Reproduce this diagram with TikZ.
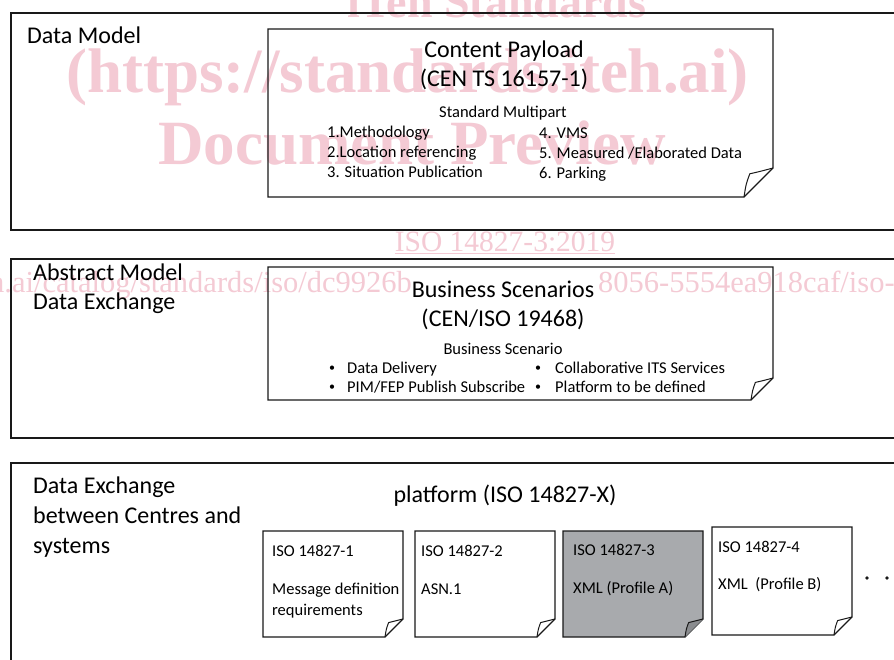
\documentclass[tikz,border=0pt]{standalone}
\usepackage{fontspec}
\setmainfont{Carlito}
\newfontfamily\wmfont{Liberation Serif}

\definecolor{wmpink}{RGB}{244,202,212}
\definecolor{notegray}{RGB}{168,170,173}
\definecolor{flapgray}{RGB}{138,140,143}

% folded note: x1, y1, x2, y2, fold size, body fill, flap fill
\newcommand\notebox[7]{%
  \draw[boxline, fill=#6] (#1,#2) -- (#3,#2) -- (#3,{#4-#5}) -- ({#3-#5},#4) -- (#1,#4) -- cycle;
  \draw[flapline, fill=#7] ({#3-#5},#4) .. controls ({#3-0.93*#5},{#4-0.45*#5}) .. ({#3-0.8*#5},{#4-0.8*#5})
        .. controls ({#3-0.45*#5},{#4-0.88*#5}) .. (#3,{#4-#5});
}

\tikzset{
  panel/.style={draw=black!90, line width=1.2pt},
  boxline/.style={draw=black!90, line width=1.2pt, line join=miter},
  flapline/.style={draw=black!90, line width=1pt, line join=round},
  big/.style={font=\fontsize{24}{29}\selectfont, inner sep=0pt, anchor=base},
  bigleft/.style={big, anchor=base west},
  small/.style={font=\fontsize{16.5}{20}\selectfont, inner sep=0pt, anchor=base},
  smallleft/.style={small, anchor=base west},
  dot/.style={font=\fontsize{12}{14}\selectfont, inner sep=0pt, anchor=base},
  wmbig/.style={font=\wmfont\bfseries\fontsize{63}{70}\selectfont, text=wmpink, inner sep=0pt, anchor=base west},
  wmsmall/.style={font=\wmfont\fontsize{30.5}{34}\selectfont, text=wmpink, inner sep=0pt},
}

\begin{document}
\begin{tikzpicture}[x=1pt, y=-1pt]
\useasboundingbox (0,0) rectangle (894,659);
\clip (0,0) rectangle (894,659);
\fill[white] (0,0) rectangle (894,659);

% preview watermark, laid under the drawing
\node[wmbig, anchor=base, font=\wmfont\bfseries\fontsize{46}{50}\selectfont] (wm1) at (497,17) {iTeh Standards};
\node[wmbig] (wm2) at (66,92) {(https://standards.iteh.ai)};
\node[wmbig] (wm3) at (158,164) {Document Preview};
\node[wmsmall, anchor=base, font=\wmfont\fontsize{29.5}{34}\selectfont] (wm4) at (505,251) {\underline{ISO 14827-3:2019}};
\node[wmsmall, anchor=base east] (wm5) at (412,292) {https://standards.iteh.ai/catalog/standards/iso/dc9926b};
\node[wmsmall, anchor=base west] (wm6) at (598,292) {8056-5554ea918caf/iso-14827-3-2019};

% three layer panels
\draw[panel] (11,13) rectangle (910,230);
\draw[panel] (11,259) rectangle (910,438);
\draw[panel] (11,463) rectangle (910,690);

% data model layer
\node[bigleft] (dm) at (27,43) {Data Model};
\notebox{268}{29}{773}{197}{29}{none}{none}
\node[big] (cp1) at (504,57) {Content Payload};
\node[big] (cp2) at (504,86) {(CEN TS 16157-1)};
\node[small] (cp3) at (503,117) {Standard Multipart};
\node[smallleft] (p1) at (327,137) {1.Methodology};
\node[smallleft] (p2) at (327,157) {2.Location referencing};
\node[smallleft] (p3) at (327,177) {3. Situation Publication};
\node[smallleft] (p4) at (539,138) {4. VMS};
\node[smallleft] (p5) at (539,158) {5. Measured /Elaborated Data};
\node[smallleft] (p6) at (539,178) {6. Parking};

% abstract model layer
\node[bigleft] (am1) at (33,280) {Abstract Model};
\node[bigleft] (am2) at (33,309) {Data Exchange};
\notebox{268}{267}{773}{400}{22}{none}{none}
\node[big] (bs1) at (503,297) {Business Scenarios};
\node[big] (bs2) at (503,326) {(CEN/ISO 19468)};
\node[small] (bs3) at (503,354) {Business Scenario};
\node[dot] (bd1) at (332,371.5) {•};
\node[smallleft] (bt1) at (347,373) {Data Delivery};
\node[dot] (bd2) at (332,390.5) {•};
\node[smallleft] (bt2) at (347,392) {PIM/FEP Publish Subscribe};
\node[dot] (bd3) at (538,371.5) {•};
\node[smallleft] (bt3) at (555,373) {Collaborative ITS Services};
\node[dot] (bd4) at (538,390.5) {•};
\node[smallleft] (bt4) at (555,392) {Platform to be defined};

% exchange platform layer
\node[bigleft] (de1) at (33,493) {Data Exchange};
\node[bigleft] (de2) at (33,523) {between Centres and};
\node[bigleft] (de3) at (33,553) {systems};
\node[big] (pf) at (505,502) {platform (ISO 14827-X)};

\notebox{263}{531}{403}{637}{18}{none}{none}
\node[smallleft] (n1a) at (272,556) {ISO 14827-1};
\node[smallleft] (n1b) at (272,594) {Message definition};
\node[smallleft] (n1c) at (272,615) {requirements};

\notebox{415}{531}{555}{637}{18}{none}{none}
\node[smallleft] (n2a) at (421,556) {ISO 14827-2};
\node[smallleft] (n2b) at (421,594) {ASN.1};

\notebox{563}{531}{703}{637}{18}{notegray}{flapgray}
\node[smallleft] (n3a) at (573,555) {ISO 14827-3};
\node[smallleft] (n3b) at (573,593) {XML (Profile A)};

\notebox{712}{527}{852}{635}{18}{none}{none}
\node[smallleft] (n4a) at (718,552) {ISO 14827-4};
\node[smallleft] (n4b) at (718,589) {XML\ \ (Profile B)};

% continuation dots
\foreach \dx in {867,887,907} \fill[black!90] (\dx,578) circle (1.8);
\end{tikzpicture}
\end{document}
